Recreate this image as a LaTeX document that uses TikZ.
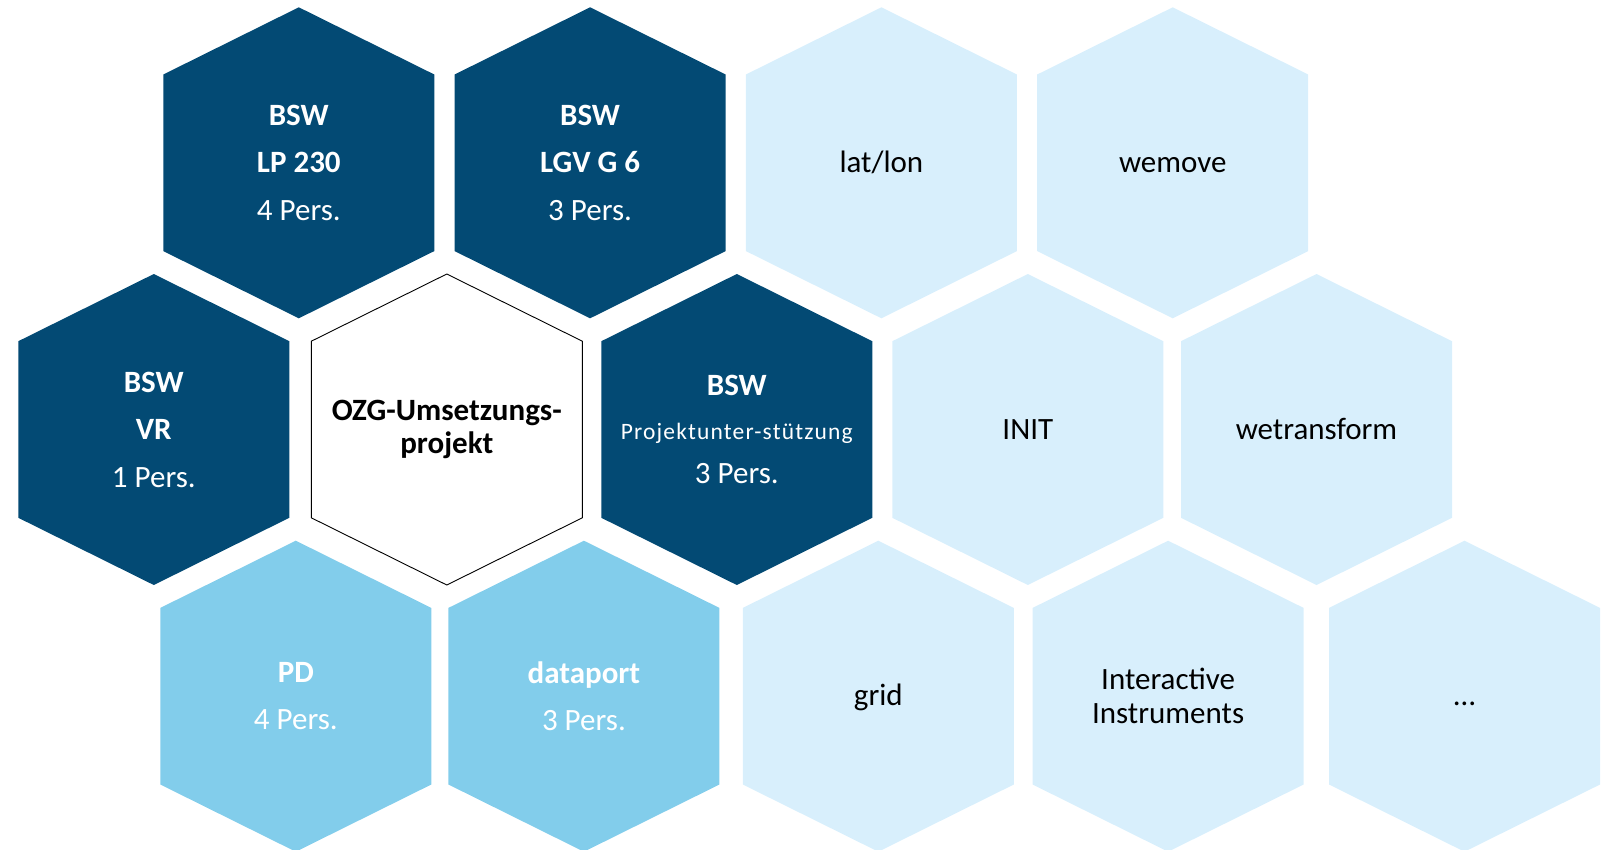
\documentclass[tikz,border=0pt]{standalone}
\usepackage{fontspec}
\setmainfont{Carlito}

\definecolor{bswblue}{RGB}{3,74,116}
\definecolor{pdblue}{RGB}{130,205,235}
\definecolor{paleblue}{RGB}{216,239,252}

\def\hexagon{++(0,-155.5) -- ++(135.5,67.2) -- ++(0,176.6) -- ++(-135.5,67.2) -- ++(-135.5,-67.2) -- ++(0,-176.6) -- cycle}

\tikzset{
  darkhex/.style={fill=bswblue},
  midhex/.style={fill=pdblue},
  palehex/.style={fill=paleblue},
  whitelabel/.style={text=white, align=center, font=\fontsize{31}{47.5}\selectfont},
  blacklabel/.style={text=black, align=center, font=\fontsize{31}{34}\selectfont},
  onelabel/.style={text=black, anchor=base, font=\fontsize{31}{34}\selectfont},
}

\begin{document}
\begin{tikzpicture}[x=1pt,y=-1pt]
  \useasboundingbox (0,0) rectangle (1613,849);

  % first row
  \fill[darkhex] (298.8,162.8) \hexagon;
  \fill[darkhex] (590.1,162.8) \hexagon;
  \fill[palehex] (881.4,162.8) \hexagon;
  \fill[palehex] (1172.7,162.8) \hexagon;

  % second row
  \fill[darkhex] (153.8,429.5) \hexagon;
  \filldraw[fill=white, draw=black, line width=0.9pt] (446.8,429.5) \hexagon;
  \fill[darkhex] (736.8,429.5) \hexagon;
  \fill[palehex] (1027.8,429.5) \hexagon;
  \fill[palehex] (1316.5,429.5) \hexagon;

  % third row
  \fill[midhex] (295.8,696.2) \hexagon;
  \fill[midhex] (583.9,696.2) \hexagon;
  \fill[palehex] (878.3,696.2) \hexagon;
  \fill[palehex] (1168.1,696.2) \hexagon;
  \fill[palehex] (1464.5,696.2) \hexagon;

  \node[whitelabel] (lp230) at (298.8,162.8) {\textbf{BSW}\\\textbf{LP 230}\\4 Pers.};
  \node[whitelabel] (lgv) at (590.1,162.8) {\textbf{BSW}\\\textbf{LGV G 6}\\3 Pers.};
  \node[onelabel] (latlon) at (881.4,172.3) {lat/lon};
  \node[onelabel] (wemove) at (1172.7,172.3) {wemove};

  \node[whitelabel] (vr) at (153.8,429.5) {\textbf{BSW}\\\textbf{VR}\\1 Pers.};
  \node[blacklabel, font=\bfseries\fontsize{31}{33.3}\selectfont] (ozg) at (446.8,429.5) {OZG-Umsetzungs-\\projekt};
  \node[whitelabel, font=\fontsize{31}{44}\selectfont] (support) at (736.8,429.5)
    {\textbf{BSW}\\{\fontsize{23.5}{44}\selectfont\addfontfeatures{LetterSpace=5}Projektunter-stützung}\\3 Pers.};
  \node[onelabel] (init) at (1027.8,439) {INIT};
  \node[onelabel] (wetransform) at (1316.5,439) {wetransform};

  \node[whitelabel, font=\fontsize{31}{47.3}\selectfont] (pd) at (295.8,696.2) {\textbf{PD}\\4 Pers.};
  \node[whitelabel, font=\fontsize{31}{47.3}\selectfont] (dataport) at (583.9,696.2) {\textbf{dataport}\\3 Pers.};
  \node[onelabel] (grid) at (878.3,705.7) {grid};
  \node[blacklabel] (ii) at (1168.1,696.2) {Interactive\\Instruments};
  \node[onelabel] (more) at (1464.5,705.7) {…};

\end{tikzpicture}
\end{document}
